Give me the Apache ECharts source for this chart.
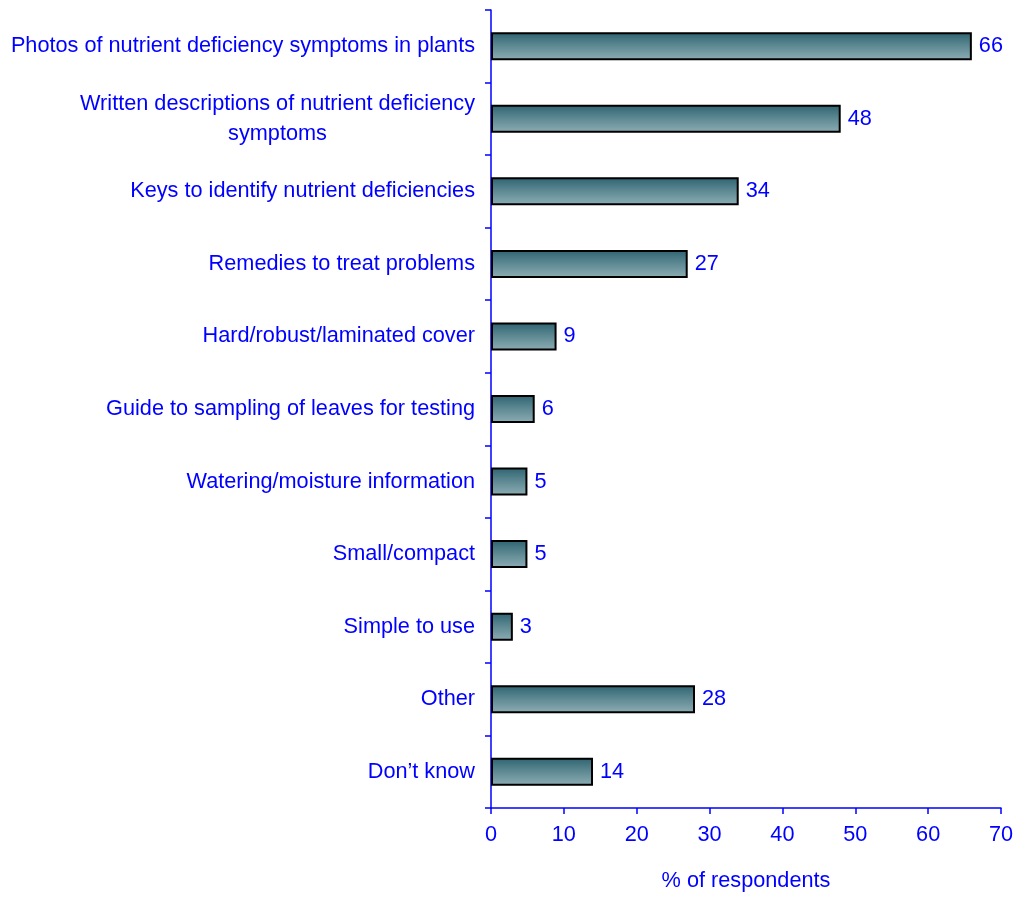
<!DOCTYPE html>
<html><head><meta charset="utf-8">
<script src="https://cdn.jsdelivr.net/npm/echarts@6/dist/echarts.min.js"></script>
<style>html,body{margin:0;padding:0;background:#fff}#c{width:1027px;height:898px}</style>
</head><body><div id="c"></div>
<script>
const categories = [
  "Photos of nutrient deficiency symptoms in plants",
  "Written descriptions of nutrient deficiency\nsymptoms",
  "Keys to identify nutrient deficiencies",
  "Remedies to treat problems",
  "Hard/robust/laminated cover",
  "Guide to sampling of leaves for testing",
  "Watering/moisture information",
  "Small/compact",
  "Simple to use",
  "Other",
  "Don\u2019t know"
];
const values = [66, 48, 34, 27, 9, 6, 5, 5, 3, 28, 14];
const xTicks = { min: 0, max: 70, interval: 10 };
const xTitle = "% of respondents";

const blue = "#0000ff";
const font = "Liberation Sans";
const fs = 21.7;
const chart = echarts.init(document.getElementById('c'), null, {renderer: 'canvas'});
chart.setOption({
  animation: false,
  grid: { left: 491, right: 26, top: 10, bottom: 90, containLabel: false },
  xAxis: {
    type: 'value', min: xTicks.min, max: xTicks.max, interval: xTicks.interval,
    name: xTitle, nameLocation: 'middle', nameGap: 62,
    nameTextStyle: { color: blue, fontSize: fs, fontFamily: font },
    axisLine: { show: true, lineStyle: { color: blue, width: 1.5 } },
    axisTick: { show: true, length: 6, lineStyle: { color: blue, width: 1.5 } },
    axisLabel: { color: blue, fontSize: fs, fontFamily: font, margin: 16 },
    splitLine: { show: false }
  },
  yAxis: {
    type: 'category', inverse: true, data: categories,
    axisLine: { show: true, lineStyle: { color: blue, width: 1.5 } },
    axisTick: { show: true, length: 6, lineStyle: { color: blue, width: 1.5 } },
    axisLabel: {
      color: blue, fontSize: fs, fontFamily: font, margin: 16, lineHeight: 30,
      formatter: function (v) {
        if (v.indexOf('\n') >= 0) {
          const p = v.split('\n');
          return '{a|' + p[0] + '}\n{c|' + p[1] + '}';
        }
        return v;
      },
      rich: {
        a: { color: blue, fontSize: fs, fontFamily: font, lineHeight: 30 },
        c: { color: blue, fontSize: fs, fontFamily: font, lineHeight: 30, align: 'center' }
      }
    }
  },
  series: [{
    type: 'bar', data: values, barWidth: 28,
    itemStyle: {
      color: new echarts.graphic.LinearGradient(0, 0, 0, 1, [
        { offset: 0, color: '#2d6370' },
        { offset: 0.5, color: '#5f8a94' },
        { offset: 1, color: '#8eaeb5' }
      ]),
      borderColor: '#000', borderWidth: 2
    },
    label: { show: true, position: 'right', distance: 7, color: blue, fontSize: fs, fontFamily: font }
  }]
});
</script></body></html>
